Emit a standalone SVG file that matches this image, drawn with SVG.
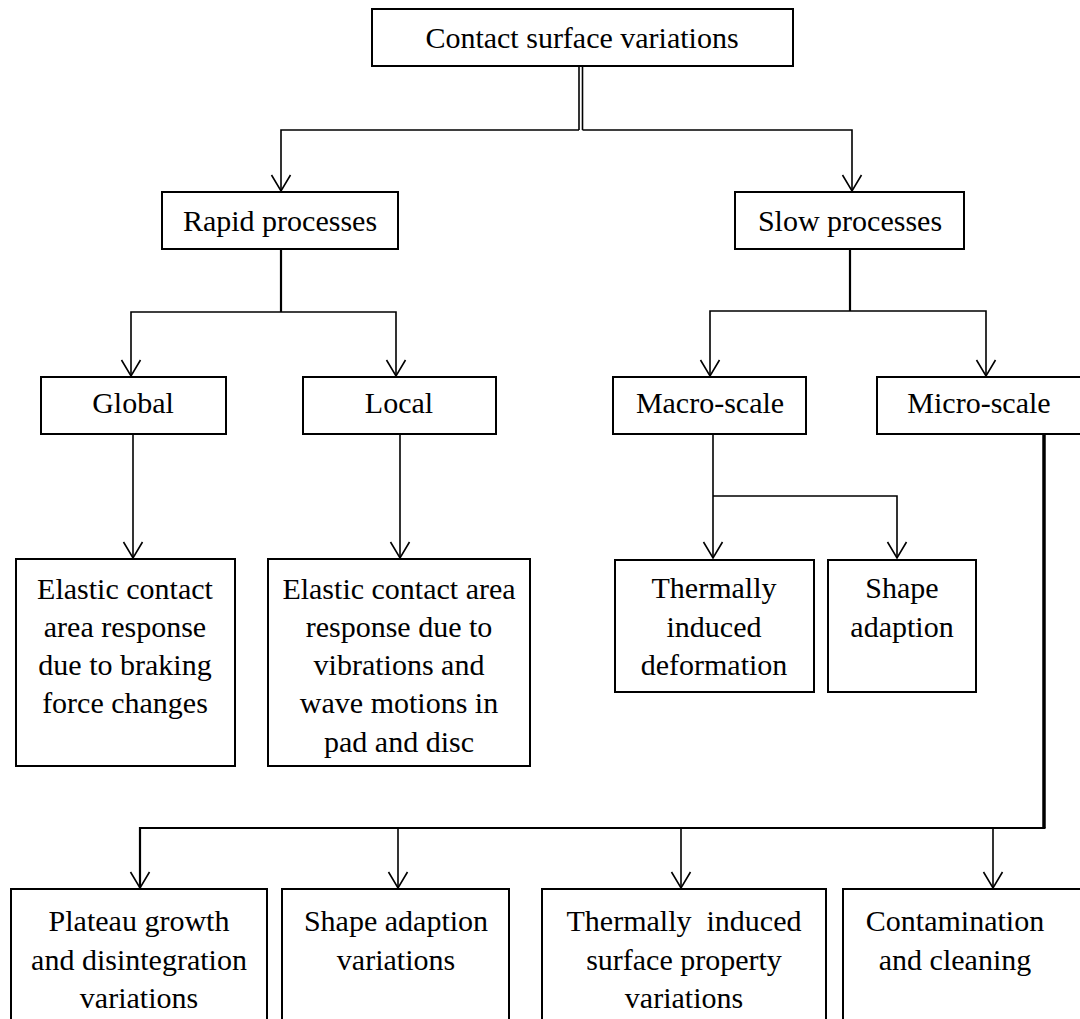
<svg xmlns="http://www.w3.org/2000/svg" width="1080" height="1019" viewBox="0 0 1080 1019">
<style>
.box{fill:#fff;stroke:#000;stroke-width:2}
.t{font-family:"Liberation Serif","Times New Roman",serif;font-size:30px;fill:#000;text-anchor:middle}
.c{fill:none;stroke:#000;stroke-width:1.6}
.thick{stroke-width:3.5}
.med{stroke-width:2.2}
</style>
<defs>
<marker id="arr" markerUnits="userSpaceOnUse" markerWidth="20" markerHeight="22" viewBox="0 0 20 22" refX="18" refY="11" orient="auto">
<path d="M2,1.5 L18,11 L2,20.5" fill="none" stroke="#000" stroke-width="1.6"/>
</marker>
</defs>
<rect width="1080" height="1019" fill="#fff"/>
<g id="connectors">
<line class="c" x1="579" y1="66" x2="579" y2="130"/>
<line class="c" x1="582.5" y1="66" x2="582.5" y2="130"/>
<path class="c" d="M579,130 H281 V191" marker-end="url(#arr)"/>
<path class="c" d="M582.5,130 H852 V191" marker-end="url(#arr)"/>
<path class="c med" d="M281,249 V312"/>
<path class="c" d="M281,312 H131 V376" marker-end="url(#arr)"/>
<path class="c" d="M281,312 H396 V376" marker-end="url(#arr)"/>
<path class="c" d="M133,434 V558" marker-end="url(#arr)"/>
<path class="c" d="M400,434 V558" marker-end="url(#arr)"/>
<path class="c med" d="M850,249 V311"/>
<path class="c" d="M850,311 H710 V376" marker-end="url(#arr)"/>
<path class="c" d="M850,311 H986 V376" marker-end="url(#arr)"/>
<path class="c" d="M713,434 V558" marker-end="url(#arr)"/>
<path class="c" d="M713,496 H897 V558" marker-end="url(#arr)"/>
<path class="c thick" d="M1044,434 V828"/>
<path class="c med" d="M1045.5,828 H140 V888" marker-end="url(#arr)"/>
<path class="c" d="M398,828 V888" marker-end="url(#arr)"/>
<path class="c" d="M681,828 V888" marker-end="url(#arr)"/>
<path class="c" d="M993,828 V888" marker-end="url(#arr)"/>
</g>
<g id="n-root"><rect class="box" x="372" y="9" width="421" height="57"/><text class="t" x="582" y="48">Contact surface variations</text></g>
<g id="n-rapid"><rect class="box" x="162" y="192" width="236" height="57"/><text class="t" x="280" y="231">Rapid processes</text></g>
<g id="n-slow"><rect class="box" x="735" y="192" width="229" height="57"/><text class="t" x="850" y="231">Slow processes</text></g>
<g id="n-global"><rect class="box" x="41" y="377" width="185" height="57"/><text class="t" x="133" y="413">Global</text></g>
<g id="n-local"><rect class="box" x="303" y="377" width="193" height="57"/><text class="t" x="399" y="413">Local</text></g>
<g id="n-macro"><rect class="box" x="613" y="377" width="193" height="57"/><text class="t" x="710" y="413">Macro-scale</text></g>
<g id="n-micro"><rect class="box" x="877" y="377" width="206" height="57"/><text class="t" x="979" y="413">Micro-scale</text></g>
<g id="n-elastic1"><rect class="box" x="16" y="559" width="219" height="207"/>
<text class="t" x="125" y="599">Elastic contact</text>
<text class="t" x="125" y="637">area response</text>
<text class="t" x="125" y="675">due to braking</text>
<text class="t" x="125" y="713">force changes</text></g>
<g id="n-elastic2"><rect class="box" x="268" y="559" width="262" height="207"/>
<text class="t" x="399" y="599">Elastic contact area</text>
<text class="t" x="399" y="637">response due to</text>
<text class="t" x="399" y="675">vibrations and</text>
<text class="t" x="399" y="713">wave motions in</text>
<text class="t" x="399" y="752">pad and disc</text></g>
<g id="n-thermdef"><rect class="box" x="615" y="560" width="199" height="132"/>
<text class="t" x="714" y="598">Thermally</text>
<text class="t" x="714" y="637">induced</text>
<text class="t" x="714" y="675">deformation</text></g>
<g id="n-shape"><rect class="box" x="828" y="560" width="148" height="132"/>
<text class="t" x="902" y="598">Shape</text>
<text class="t" x="902" y="637">adaption</text></g>
<g id="n-plateau"><rect class="box" x="11" y="889" width="256" height="140"/>
<text class="t" x="139" y="931">Plateau growth</text>
<text class="t" x="139" y="970">and disintegration</text>
<text class="t" x="139" y="1008">variations</text></g>
<g id="n-shapevar"><rect class="box" x="282" y="889" width="227" height="140"/>
<text class="t" x="396" y="931">Shape adaption</text>
<text class="t" x="396" y="970">variations</text></g>
<g id="n-thermsurf"><rect class="box" x="542" y="889" width="284" height="140"/>
<text class="t" x="684" y="931" xml:space="preserve">Thermally  induced</text>
<text class="t" x="684" y="970">surface property</text>
<text class="t" x="684" y="1008">variations</text></g>
<g id="n-contam"><rect class="box" x="843" y="889" width="240" height="140"/>
<text class="t" x="955" y="931">Contamination</text>
<text class="t" x="955" y="970">and cleaning</text></g>
</svg>
